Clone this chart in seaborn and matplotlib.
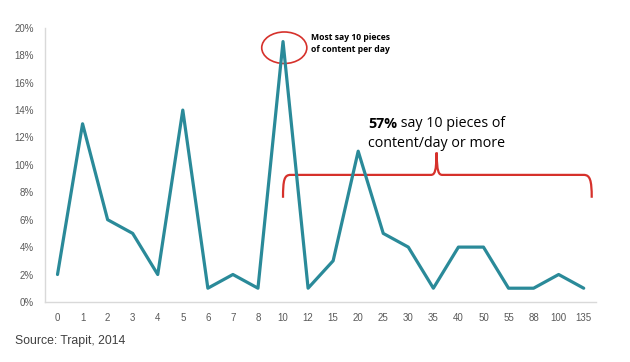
import matplotlib
matplotlib.use("Agg")
import matplotlib.pyplot as plt
import seaborn as sns
import pandas as pd
from matplotlib.patches import Ellipse, PathPatch
from matplotlib.path import Path

categories = ["0", "1", "2", "3", "4", "5", "6", "7", "8", "10", "12", "15",
              "20", "25", "30", "35", "40", "50", "55", "88", "100", "135"]
values = [2, 13, 6, 5, 2, 14, 1, 2, 1, 19, 1, 3, 11, 5, 4, 1, 4, 4, 1, 1, 2, 1]
ytick_vals = [0, 2, 4, 6, 8, 10, 12, 14, 16, 18, 20]

sns.set_theme(style="white")
plt.rcParams['font.family'] = ['Liberation Sans', 'DejaVu Sans']

df = pd.DataFrame({"pieces": categories, "pct": values})

fig = plt.figure(figsize=(6.3, 3.62), dpi=100)
ax = fig.add_axes([0.0714, 0.166, 0.875, 0.757])
sns.lineplot(data=df, x="pieces", y="pct", ax=ax, color="#2A8A99", linewidth=2.3, sort=False)

ax.set_xlim(-0.5, len(categories) - 0.5)
ax.set_ylim(0, 20)
ax.set_yticks(ytick_vals)
ax.set_yticklabels([f"{v}%" for v in ytick_vals])
ax.set_xlabel("")
ax.set_ylabel("")
ax.tick_params(axis="both", labelsize=7, colors="#595959", length=0, pad=8)
for s in ["top", "right"]:
    ax.spines[s].set_visible(False)
for s in ["left", "bottom"]:
    ax.spines[s].set_color("#D9D9D9")
    ax.spines[s].set_linewidth(1)

red = "#D6312B"
ax.add_patch(Ellipse((9.05, 18.55), 1.8, 2.3, fill=False, edgecolor=red, lw=1.2))
ax.text(10.1, 18.85, "Most say 10 pieces\nof content per day", fontsize=6.2,
        fontweight="bold", color="black", va="center", ha="left", linespacing=1.4,
        family=['Open Sans', 'DejaVu Sans'])

# curly brace
yb = 9.27
verts = [
    (9.0, 7.6), (9.0, 8.9), (9.05, yb), (9.3, yb),
    (14.9, yb),
    (15.05, yb), (15.12, 9.5), (15.13, 10.9),
    (15.14, 9.5), (15.21, yb), (15.36, yb),
    (21.0, yb),
    (21.25, yb), (21.32, 8.9), (21.32, 7.6),
]
codes = [Path.MOVETO, Path.CURVE4, Path.CURVE4, Path.CURVE4,
         Path.LINETO,
         Path.CURVE4, Path.CURVE4, Path.CURVE4,
         Path.CURVE4, Path.CURVE4, Path.CURVE4,
         Path.LINETO,
         Path.CURVE4, Path.CURVE4, Path.CURVE4]
ax.add_patch(PathPatch(Path(verts, codes), fill=False, edgecolor=red, lw=1.6))

fs = 10.3
t1 = ax.text(12.4, 13.0, "57%", fontsize=fs, fontweight="bold", color="black",
             va="center", ha="left", family=['Open Sans', 'DejaVu Sans'])
fig.canvas.draw()
bb = t1.get_window_extent()
inv = ax.transData.inverted()
x_end = inv.transform((bb.x1, bb.y0))[0]
ax.text(x_end, 13.0, " say 10 pieces of", fontsize=fs, color="black",
        va="center", ha="left", family=['Open Sans', 'DejaVu Sans'])
ax.text(12.4, 11.55, "content/day or more", fontsize=fs, color="black",
        va="center", ha="left", family=['Open Sans', 'DejaVu Sans'])

fig.text(15 / 630, 1 - 341 / 362, "Source: Trapit, 2014", fontsize=8.8, color="#404040",
         va="center", ha="left")

fig.savefig("out.png", dpi=100)
